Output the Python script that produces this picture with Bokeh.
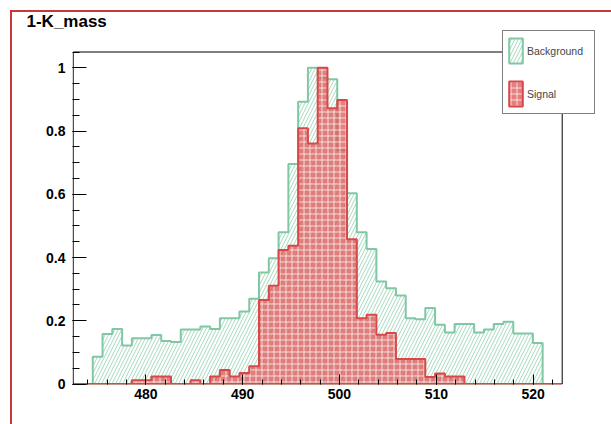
from bokeh.plotting import figure
from bokeh.models import (Range1d, FixedTicker, Legend, LegendItem, Title,
                          InlineStyleSheet)
from bokeh.embed import file_html
from bokeh.resources import INLINE

# Histogram binning of K mass (50 bins)
X_MIN = 472.5
BIN_WIDTH = 1.01
Y_MAX = 1.05

# Normalised bin contents (max = 1)
background = [0.0, 0.0, 0.086, 0.158, 0.174, 0.122, 0.145, 0.145, 0.155, 0.136,
              0.133, 0.172, 0.172, 0.182, 0.174, 0.208, 0.208, 0.229, 0.27, 0.353,
              0.398, 0.48, 0.696, 0.893, 1.0, 0.97, 0.964, 0.74, 0.603, 0.48,
              0.427, 0.324, 0.303, 0.28, 0.208, 0.205, 0.24, 0.187, 0.163, 0.19,
              0.19, 0.163, 0.172, 0.19, 0.197, 0.16, 0.16, 0.13, 0.0, 0.0]
signal = [0.0, 0.0, 0.0, 0.0, 0.0, 0.0, 0.012, 0.012, 0.024, 0.024,
          0.0, 0.0, 0.012, 0.0, 0.024, 0.044, 0.024, 0.035, 0.056, 0.266,
          0.311, 0.424, 0.437, 0.809, 0.761, 1.0, 0.872, 0.898, 0.458, 0.208,
          0.219, 0.156, 0.161, 0.079, 0.079, 0.079, 0.022, 0.033, 0.024, 0.024,
          0.0, 0.0, 0.0, 0.0, 0.0, 0.0, 0.0, 0.0, 0.0, 0.0]

x_ticks = [480, 490, 500, 510, 520]
y_ticks = [0, 0.2, 0.4, 0.6, 0.8, 1.0]
y_tick_labels = ["0", "0.2", "0.4", "0.6", "0.8", "1"]

GREEN_LINE = "#80c8a3"
GREEN_HATCH = "#a6d8be"
RED_LINE = "#d94848"
RED_FILL = "#dc5656"
PAD_LINE = "#c23a3a"
FONT = "Liberation Sans"

edges = [X_MIN + BIN_WIDTH * i for i in range(len(background) + 1)]
X_MAX = edges[-1]

# Layout of the canvas (pixels): the plotting region reaches the right and
# upper edges so the legend can overlap the histogram frame.
W, H = 611, 424
LEFT, TOP, BOTTOM = 72, 30, 40
HIST_W, HIST_H = 489, 332            # pixel size of the histogram frame
px_x = HIST_W / (X_MAX - X_MIN)
px_y = HIST_H / Y_MAX
x_lo = X_MIN - 0.7 / px_x
y_lo = -0.5 / px_y
x_hi = x_lo + (W - LEFT) / px_x
y_hi = y_lo + (H - TOP - BOTTOM) / px_y


def outline(counts):
    """Closed step outline of a histogram, starting and ending on the baseline."""
    xs, ys = [edges[0]], [0.0]
    for i, c in enumerate(counts):
        xs += [edges[i], edges[i + 1]]
        ys += [c, c]
    xs.append(edges[-1])
    ys.append(0.0)
    return xs, ys


p = figure(width=W, height=H, output_backend="svg", toolbar_location=None,
           x_range=Range1d(x_lo, x_hi), y_range=Range1d(y_lo, y_hi),
           min_border_left=LEFT, min_border_right=0, min_border_top=TOP,
           min_border_bottom=BOTTOM, title=None)
p.background_fill_color = "white"
p.border_fill_color = "white"
p.outline_line_color = None
p.xgrid.visible = False
p.ygrid.visible = False

bx, by = outline(background)
bkg = p.patch(bx, by, fill_alpha=0, line_color=GREEN_LINE, line_width=2,
              hatch_pattern="/", hatch_color=GREEN_HATCH, hatch_scale=7,
              hatch_weight=1, hatch_alpha=1.0)

sx, sy = outline(signal)
sig = p.patch(sx, sy, fill_color=RED_FILL, fill_alpha=0.75, line_color=RED_LINE,
              line_width=2, hatch_pattern="+", hatch_color="white",
              hatch_alpha=0.7, hatch_scale=6, hatch_weight=1)

# Histogram frame: y-axis line, top and right edges
p.segment(x0=[X_MIN, X_MIN, X_MAX], y0=[0, Y_MAX, 0],
          x1=[X_MIN, X_MAX, X_MAX], y1=[Y_MAX, Y_MAX, Y_MAX],
          line_color="black", line_width=1)

# Axes
p.xaxis.ticker = FixedTicker(ticks=x_ticks, minor_ticks=list(range(474, 523, 2)))
p.yaxis.ticker = FixedTicker(ticks=y_ticks,
                             minor_ticks=[round(0.05 * i, 2) for i in range(22)])
p.yaxis.major_label_overrides = dict(zip(y_ticks, y_tick_labels))
for ax in (p.xaxis[0], p.yaxis[0]):
    ax.major_label_text_font = FONT
    ax.major_label_text_font_size = "14px"
    ax.major_label_text_font_style = "bold"
    ax.major_label_text_color = "black"
    ax.major_tick_out = 0
    ax.minor_tick_out = 0
    ax.axis_line_color = None
    ax.major_tick_line_color = "black"
    ax.minor_tick_line_color = "black"
p.xaxis.major_tick_in = 10
p.xaxis.minor_tick_in = 5
p.xaxis.major_label_standoff = 4
p.yaxis.major_tick_in = 14
p.yaxis.minor_tick_in = 7
p.yaxis.major_label_standoff = 7

# Histogram title
p.add_layout(Title(text="1-K_mass", align="left", offset=-46, standoff=0,
                   vertical_align="bottom", text_font=FONT,
                   text_font_size="17px", text_font_style="bold",
                   text_color="black"), "above")

# Legend
legend = Legend(items=[LegendItem(label="Background", renderers=[bkg]),
                       LegendItem(label="Signal", renderers=[sig])],
                location=(430, 270), padding=4, spacing=12, margin=0,
                glyph_width=17, glyph_height=31, label_height=31,
                label_width=63, label_standoff=3,
                label_text_font=FONT, label_text_font_size="10.5px",
                border_line_color="black", border_line_width=1,
                background_fill_color="white", background_fill_alpha=1.0)
p.add_layout(legend)

# Pad border along the left and top of the canvas
p.stylesheets = [InlineStyleSheet(css=f"""
:host {{ position: relative; }}
:host::after {{
  content: ""; position: absolute; left: 10px; top: 10px;
  width: {W - 10}px; height: {H - 10}px; box-sizing: border-box;
  border-left: 2px solid {PAD_LINE}; border-top: 2px solid {PAD_LINE};
  pointer-events: none;
}}
""")]

open("out.html", "w").write(file_html(p, INLINE))
